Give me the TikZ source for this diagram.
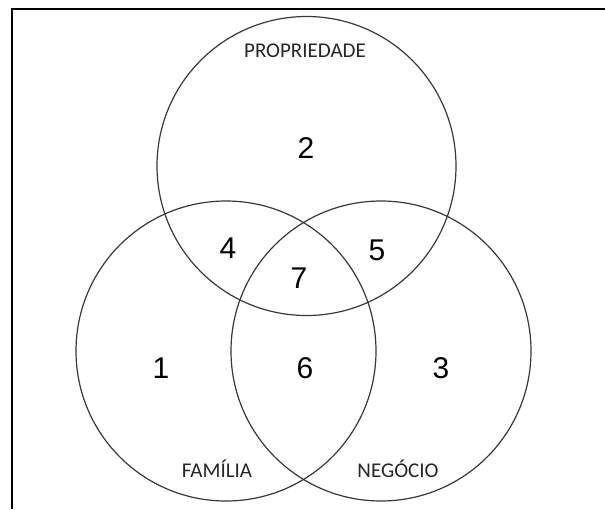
\documentclass[tikz,border=0pt]{standalone}
\usepackage{fontspec}
\newfontfamily\labelfont{Carlito}
\newfontfamily\digitfont{Liberation Sans}
\begin{document}
\begin{tikzpicture}[x=1pt,y=-1pt,
  venn/.style={circle,draw=black!78,line width=1.2pt,minimum size=300pt,inner sep=0pt},
  num/.style={font=\digitfont\fontsize{30}{30}\selectfont,text=black,inner sep=0pt},
  lbl/.style={font=\labelfont\fontsize{21}{21}\selectfont,text=black!85,inner sep=0pt,anchor=base}]
\useasboundingbox (0,0) rectangle (605,509);
\draw[line width=2pt] (12,509) -- (12,9) -- (606,9);
\node[venn,minimum size=299pt] (prop) at (306.5,166) {};
\node[venn] (fam) at (226,351) {};
\node[venn] (neg) at (381,351) {};
\node[lbl] (lprop) at (305,57) {PROPRIEDADE};
\node[lbl] (lfam) at (217,477) {FAMÍLIA};
\node[lbl] (lneg) at (398,477) {NEGÓCIO};
\node[num] (n2) at (306,148) {2};
\node[num] (n4) at (228,248) {4};
\node[num] (n7) at (299,278) {7};
\node[num] (n5) at (377,250) {5};
\node[num] (n1) at (161,368) {1};
\node[num] (n6) at (305,368) {6};
\node[num] (n3) at (441,368) {3};
\end{tikzpicture}
\end{document}
